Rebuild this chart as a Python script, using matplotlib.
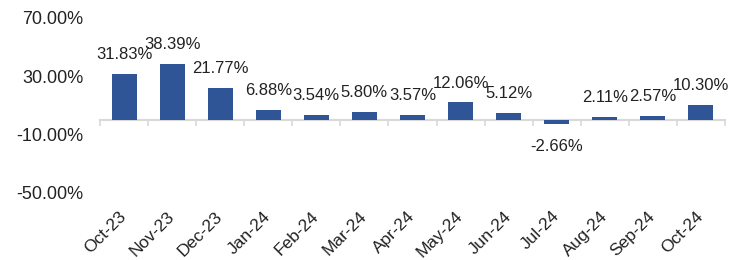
import matplotlib
matplotlib.use("Agg")
import matplotlib.pyplot as plt
import numpy as np
from matplotlib.ticker import FuncFormatter, FixedLocator

months = ["Oct-23", "Nov-23", "Dec-23", "Jan-24", "Feb-24", "Mar-24", "Apr-24",
          "May-24", "Jun-24", "Jul-24", "Aug-24", "Sep-24", "Oct-24"]
growth = [31.83, 38.39, 21.77, 6.88, 3.54, 5.80, 3.57, 12.06, 5.12, -2.66, 2.11, 2.57, 10.30]
yticks = [-50, -10, 30, 70]

plt.rcParams["font.family"] = ["Liberation Sans", "DejaVu Sans"]
text_color = "#222222"
bar_color = "#2F5597"
grid_gray = "#D9D9D9"

fig = plt.figure(figsize=(7.42, 2.6), dpi=100)
ax = fig.add_axes([100 / 742, 1 - 193 / 260, 625 / 742, 175 / 260])

x = np.arange(len(months))
ax.bar(x, growth, width=0.52, color=bar_color, zorder=3)

ax.set_xlim(-0.5, len(months) - 0.5)
ax.set_ylim(-50, 70)
ax.set_yticks(yticks)
ax.yaxis.set_major_formatter(FuncFormatter(lambda v, _: f"{v:.2f}%"))
ax.tick_params(axis="y", length=0, pad=12, labelsize=13, labelcolor=text_color)

for s in ["top", "right", "left"]:
    ax.spines[s].set_visible(False)
# zero line with small separators between categories
ax.spines["bottom"].set_position(("data", 0))
ax.spines["bottom"].set_color(grid_gray)
ax.spines["bottom"].set_linewidth(1.5)
ax.spines["bottom"].set_zorder(2)
ax.set_xticks([])
ax.xaxis.set_minor_locator(FixedLocator(np.arange(len(months) + 1) - 0.5))
ax.tick_params(axis="x", which="minor", direction="out", length=4, width=1.2,
               color=grid_gray)

# category labels sit at the bottom of the plot area
sec = ax.secondary_xaxis("bottom")
sec.set_xticks(x, months)
sec.spines["bottom"].set_visible(False)
sec.tick_params(length=0, pad=15, labelsize=12.5, labelcolor=text_color)
for lbl in sec.get_xticklabels():
    lbl.set_rotation(45)
    lbl.set_ha("right")
    lbl.set_va("center")
    lbl.set_rotation_mode("anchor")

for xi, v in zip(x, growth):
    off = 14 if v >= 0 else -16
    ax.annotate(f"{v:.2f}%", (xi, v), xytext=(0, off), textcoords="offset points",
                ha="center", va="center", fontsize=12, color=text_color)

fig.savefig("out.png", dpi=100)
